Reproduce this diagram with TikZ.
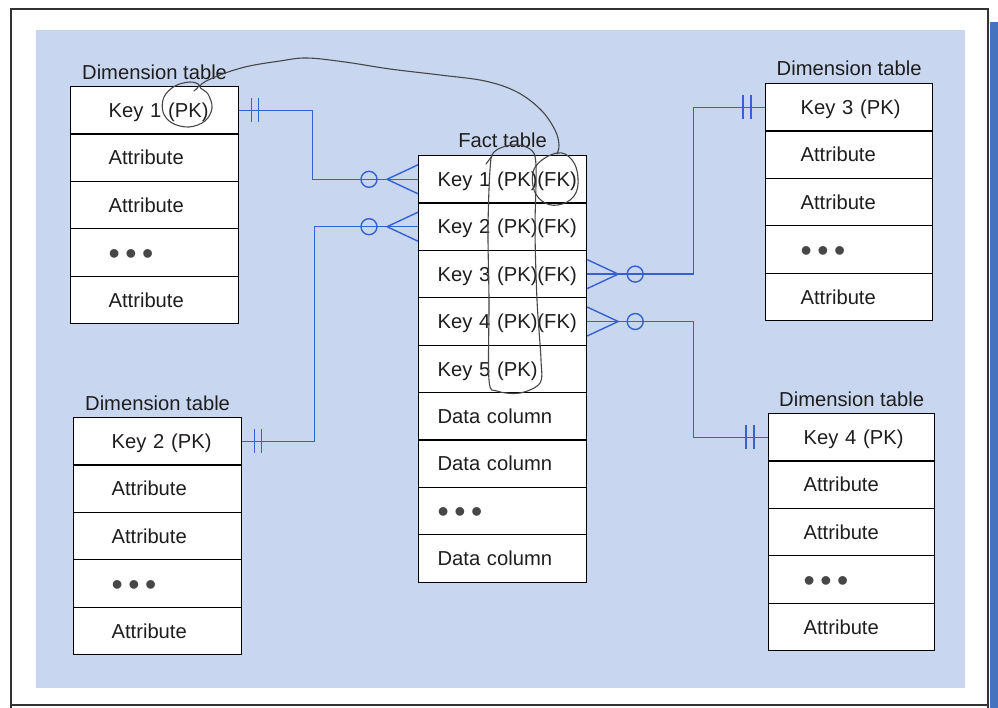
\documentclass[tikz,border=0pt]{standalone}
\usepackage{fontspec}
\setmainfont{Liberation Sans}
\usetikzlibrary{calc}
\definecolor{bgblue}{RGB}{201,214,240}
\definecolor{lnblue}{RGB}{52,98,210}
\definecolor{inkgray}{RGB}{70,70,72}
\definecolor{txtcol}{RGB}{30,30,30}
\definecolor{edgeblue}{RGB}{70,115,190}
\newcommand{\rowh}{47.4}
\newcommand{\dotsrow}{\raisebox{-4.6pt}[0pt][0pt]{\textcolor{black!72}{\fontsize{32}{32}\selectfont •\hspace{5.6pt}•\hspace{5.6pt}•}}}
% #1 name, #2 left x, #3 top y, #4 width, #5 text inset, #6 rows
\newcommand{\mktable}[6]{%
  \foreach \txt [count=\i] in {#6} {
    \node[cell, minimum width=#4pt, text width=#4pt, anchor=north west]
      (#1-\i) at (#2, {#3+(\i-1)*\rowh}) {\hspace*{#5pt}\txt};
  }%
}
\begin{document}
\begin{tikzpicture}[x=1pt,y=-1pt,
  cell/.style={draw=black, line width=1.2pt, fill=white, rectangle,
               minimum height=47.4pt, inner ysep=0pt, inner xsep=0pt, align=left,
               text height=14.4pt, text depth=0pt,
               font=\fontsize{20.2}{22}\selectfont, text=txtcol},
  ttl/.style={anchor=base, font=\fontsize{20.2}{22}\selectfont, text=txtcol, inner sep=0pt},
  conn/.style={draw=lnblue, line width=1.4pt},
  ink/.style={draw=inkgray, line width=1.1pt, line cap=round, line join=round}]
\useasboundingbox (0,0) rectangle (998,708);
\fill[white] (0,0) rectangle (998,708);
% photographed page
\fill[bgblue] (36,30) rectangle (965,688);
\fill[edgeblue] (990,22) rectangle (998,708);
\draw[black!80, line width=1.5pt] (11,708) -- (11,9) -- (988,9) -- (988,708);
\draw[black!80, line width=1.5pt] (11,705) -- (988,705);

% tables
\mktable{da}{70}{86}{168}{38}{Key 1 (PK),Attribute,Attribute,\dotsrow,Attribute}
\mktable{db}{73}{417}{168}{38}{Key 2 (PK),Attribute,Attribute,\dotsrow,Attribute}
\mktable{dc}{765}{83}{167}{35}{Key 3 (PK),Attribute,Attribute,\dotsrow,Attribute}
\mktable{dd}{768}{413}{166}{35}{Key 4 (PK),Attribute,Attribute,\dotsrow,Attribute}
\mktable{f}{418}{155}{168}{19}{Key 1 (PK)(FK),Key 2 (PK)(FK),Key 3 (PK)(FK),Key 4 (PK)(FK),Key 5 (PK),Data column,Data column,\dotsrow,Data column}

% titles
\node[ttl] (tda) at ($(da-1.north)+(0,-6.5)$) {Dimension table};
\node[ttl] (tdb) at ($(db-1.north)+(0,-6.5)$) {Dimension table};
\node[ttl] (tdc) at ($(dc-1.north)+(0,-7)$) {Dimension table};
\node[ttl] (tdd) at ($(dd-1.north)+(0,-7)$) {Dimension table};
\node[ttl] (tf) at ($(f-1.north)+(0,-7)$) {Fact table};

% connectors
\draw[conn] (da-1.east) -- ++(73,0) |- (f-1.west);
\draw[conn] (db-1.east) -- ++(72,0) |- (f-2.west);
\draw[conn] (f-3.east) -- ++(106,0) |- (dc-1.west);
\draw[conn] (f-4.east) -- ++(106,0) |- (dd-1.west);

% crow's feet with circles (fact side)
\foreach \r in {1,2} {
  \draw[conn] ($(f-\r.west)+(0,-14.5)$) -- ($(f-\r.west)+(-31,0)$) -- ($(f-\r.west)+(0,14.5)$);
  \draw[conn] ($(f-\r.west)+(-49,0)$) circle (8);
}
\foreach \r in {3,4} {
  \draw[conn] ($(f-\r.east)+(0,-14.5)$) -- ($(f-\r.east)+(31,0)$) -- ($(f-\r.east)+(0,14.5)$);
  \draw[conn] ($(f-\r.east)+(48,0)$) circle (8);
}
% double bars (dimension side)
\foreach \t in {da,db} {
  \draw[conn] ($(\t-1.east)+(12,-12)$) -- ++(0,24);
  \draw[conn] ($(\t-1.east)+(19,-12)$) -- ++(0,24);
}
\foreach \t in {dc,dd} {
  \draw[conn] ($(\t-1.west)+(-14,-12)$) -- ++(0,24);
  \draw[conn] ($(\t-1.west)+(-22,-12)$) -- ++(0,24);
}

% hand-drawn annotations
\draw[ink] plot[smooth, tension=0.6] coordinates {
  (194,91) (199,85) (190,82) (175,86) (164,97) (163,112) (172,123) (189,127)
  (205,121) (212,108) (208,94) (200,86) (215,77) (245,67) (280,61) (307,58)
  (345,62) (390,69) (440,75) (485,81) (517,92) (541,110) (555,130) (559,145) (557,154)};
\draw[ink] plot[smooth cycle, tension=0.7] coordinates {
  (557,153) (572,160) (578,178) (574,196) (558,205) (542,201) (533,186) (536,166)};
\draw[ink] plot[smooth cycle, tension=0.55] coordinates {
  (494,152) (512,145) (530,149) (536,165) (535,230) (537,300) (541,360) (540,383)
  (520,393) (497,391) (489,380) (489,300) (488,230) (490,170)};
\draw[ink] (486,164) -- (492,156);
\end{tikzpicture}
\end{document}
